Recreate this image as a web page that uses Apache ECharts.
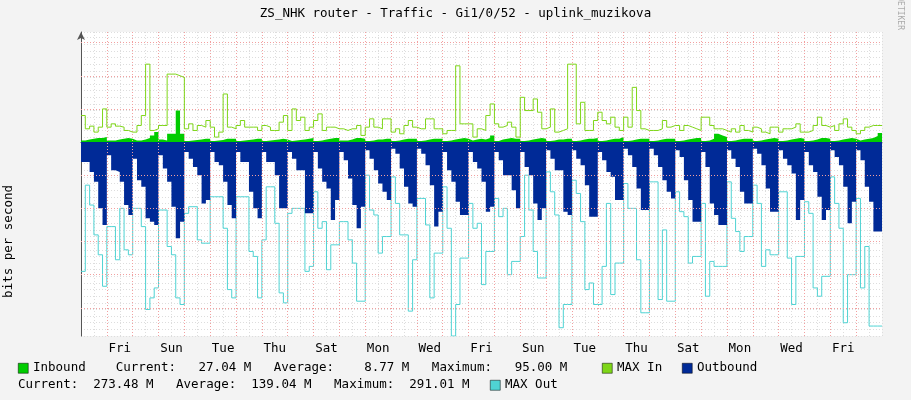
<!DOCTYPE html>
<html><head><meta charset="utf-8">
<script src="https://cdn.jsdelivr.net/npm/echarts@6/dist/echarts.min.js"></script>
<style>html,body{margin:0;padding:0;background:#f3f3f3}#c{width:911px;height:400px}</style>
</head><body><div id="c"></div>
<script>
// 31 days starting Thursday, 6 bins (4h) per day, values in Mbit/s
const dayNames = ['Thu','Fri','Sat','Sun','Mon','Tue','Wed'];
const inbound = [
5,8,10,12,12,15, 5,5,8,10,12,10, 5,5,8,12,20,30, 8,5,25,25,95,25, 3,5,6,8,10,10,
3,5,6,10,10,10, 3,5,6,8,10,10, 3,5,6,8,10,8, 3,5,6,8,10,12, 3,5,8,10,12,12,
5,5,8,12,12,10, 3,5,8,8,10,10, 3,5,8,10,10,10, 3,5,8,10,10,10, 3,5,8,10,12,10,
5,8,10,8,12,20, 3,8,10,12,10,10, 3,5,8,10,12,10, 3,5,8,8,10,10, 3,5,8,10,10,12,
3,5,8,10,10,15, 3,5,8,10,10,10, 3,5,8,10,10,10, 3,5,8,10,12,12, 3,5,10,25,20,15,
3,5,8,10,10,10, 3,5,8,10,12,10, 3,5,8,10,12,10, 3,5,8,12,12,10, 3,5,8,10,12,10,
5,8,10,12,18,27];
const maxIn = [
80,40,48,30,45,100, 45,55,48,45,35,30, 30,50,80,235,35,40, 50,50,205,205,200,195, 40,55,35,50,45,65,
45,15,30,145,45,40, 50,65,45,45,45,35, 50,45,35,35,60,80, 35,100,65,75,35,45, 65,85,35,45,45,40,
40,35,40,40,50,20, 45,70,45,40,70,70, 30,40,25,50,65,45, 40,40,70,70,40,40, 25,35,35,230,55,55,
55,15,40,35,80,115, 55,45,50,60,45,15, 135,95,95,130,90,40, 45,100,30,35,40,235, 235,55,120,35,35,65,
90,65,55,75,45,35, 75,45,165,95,40,35, 35,35,40,65,45,50, 50,35,50,45,40,35, 75,75,50,40,40,35,
30,40,30,50,35,30, 45,40,30,25,45,45, 30,40,40,45,55,30, 30,35,50,75,50,45, 50,35,55,70,45,35,
25,35,45,50,50,50];
const outbound = [
60,60,90,120,200,250, 40,85,90,120,190,220, 50,115,135,230,240,250, 40,80,120,195,290,240, 30,50,75,100,185,175,
30,60,70,120,190,230, 30,60,60,150,200,230, 30,60,60,100,200,200, 30,50,85,85,215,215, 30,80,120,140,235,175,
30,55,110,190,260,195, 25,50,85,125,150,175, 20,35,80,135,185,195, 20,35,70,130,255,210, 30,85,120,180,220,220,
30,60,80,120,210,195, 30,55,100,100,145,200, 30,75,100,185,235,200, 25,50,85,85,210,220, 25,50,70,130,225,225,
30,55,90,105,175,175, 20,40,75,140,205,205, 20,40,75,115,150,170, 25,45,115,175,240,240, 30,75,185,220,250,250,
25,50,75,150,185,185, 20,35,70,140,210,210, 25,50,70,95,235,175, 30,70,90,165,235,205, 25,45,70,135,245,180,
25,55,135,180,270,270];
const maxOut = [
390,130,190,280,340,435, 255,255,355,200,325,340, 200,200,255,505,470,440, 205,205,315,340,470,490, 215,195,195,295,305,305,
165,165,165,260,445,470, 165,165,165,330,345,470, 295,135,135,245,455,485, 215,200,200,200,390,375, 150,260,240,385,310,310,
240,240,295,365,480,480, 100,205,220,335,285,285, 105,185,280,280,510,355, 170,170,250,470,335,335, 135,260,585,490,350,350,
185,260,245,430,330,330, 170,225,200,400,360,360, 285,100,205,330,410,410, 90,150,220,560,490,490, 115,155,240,445,425,490,
490,375,185,460,365,365, 125,200,200,355,515,515, 120,120,475,265,480,480, 150,210,225,365,345,345, 185,465,360,375,375,375,
120,230,270,330,285,285, 130,185,375,325,340,340, 150,150,350,490,345,345, 180,215,440,465,405,405, 105,185,260,545,400,400,
170,440,315,555,555,555];
const yTicks = [-500,-400,-300,-200,-100,0,100,200,300];

const BIN = 4;
function pts(arr, sign){ const d = arr.map((v,i)=>[i*BIN, sign*v]); d.push([arr.length*BIN, sign*arr[arr.length-1]]); return d; }
const mono = 'DejaVu Sans Mono';
const dayLines = []; for (let h=24; h<744; h+=24) dayLines.push({xAxis:h});
const hLines = yTicks.filter(v=>v!==0).map(v=>({yAxis:v}));

const chart = echarts.init(document.getElementById('c'));
const sq = (x,y,c)=>({type:'rect',left:x,top:y,shape:{width:10,height:10},style:{fill:c,stroke:'#000',lineWidth:0.5}});
const tx = (x,y,t,extra)=>Object.assign({type:'text',left:x,top:y,style:{text:t,font:'12.5px '+mono,fill:'#000'}},extra||{});
chart.setOption({
  animation:false,
  backgroundColor:'#f3f3f3',
  grid:{left:81,right:29,top:32,bottom:64,show:true,backgroundColor:'#fff',borderWidth:0},
  xAxis:{type:'value',min:0,max:744,interval:12,
    axisLine:{lineStyle:{color:'#555'},symbol:['none','arrow'],symbolSize:[6,8]},
    axisTick:{show:true,length:3,lineStyle:{color:'#999'}},
    splitLine:{show:true,lineStyle:{color:'#ddd',type:[1,2]}},
    axisLabel:{fontFamily:mono,fontSize:12.5,color:'#000',margin:6,showMinLabel:false,showMaxLabel:false,
      formatter:v=>((v-36)%48===0? dayNames[((v-12)/24)%7] : '')}},
  yAxis:{type:'value',min:-585,max:332,interval:20,
    axisLine:{show:true,lineStyle:{color:'#555'},symbol:['none','arrow'],symbolSize:[6,8]},
    axisTick:{show:false},
    splitLine:{show:true,lineStyle:{color:'#ddd',type:[1,2]}},
    axisLabel:{fontFamily:mono,fontSize:12.5,color:'#000',margin:8,
      formatter:v=>{const r=Math.round(v); if(!yTicks.includes(r)) return ''; if(r===0) return '0'; return (r<0?'- ':'')+Math.abs(r)+' M';}}},
  series:[
    {type:'line',name:'grid',data:[],markLine:{silent:true,symbol:'none',label:{show:false},lineStyle:{color:'#f2a0a0',type:[1,2],width:1},data:dayLines.concat(hLines)}},
    {type:'line',name:'MAX Out',data:pts(maxOut,-1),step:'end',showSymbol:false,lineStyle:{color:'#4fd3d3',width:1},z:3},
    {type:'line',name:'Outbound',data:pts(outbound,-1),step:'end',showSymbol:false,lineStyle:{width:0},areaStyle:{color:'#002a97',opacity:1},z:4},
    {type:'line',name:'Inbound',data:pts(inbound,1),step:'end',showSymbol:false,lineStyle:{width:0},areaStyle:{color:'#00cc00',opacity:1},z:4},
    {type:'line',name:'MAX In',data:pts(maxIn,1),step:'end',showSymbol:false,lineStyle:{color:'#7ed618',width:1},z:5}
  ],
  graphic:[
    {type:'text',left:'center',top:7,style:{text:'ZS_NHK router - Traffic - Gi1/0/52 - uplink_muzikova',font:'12.5px '+mono,fill:'#000'}},
    {type:'text',left:2,top:185,rotation:Math.PI/2,originX:0,originY:0,style:{text:'bits per second',font:'12.5px '+mono,fill:'#000',x:0,y:0,align:'center',verticalAlign:'middle'},position:[10,185]},
    {type:'text',rotation:-Math.PI/2,position:[900,30],style:{text:'RRDTOOL / TOBI OETIKER',font:'8px '+mono,fill:'#aaa',align:'right',verticalAlign:'middle'}},
    sq(18,363,'#00cc00'), tx(33,361,'Inbound    Current:   27.04 M   Average:    8.77 M   Maximum:   95.00 M'),
    sq(602,363,'#7ed618'), tx(617,361,'MAX In'),
    sq(682,363,'#002a97'), tx(697,361,'Outbound'),
    tx(18,378,'Current:  273.48 M   Average:  139.04 M   Maximum:  291.01 M'),
    sq(490,380,'#4fd3d3'), tx(505,378,'MAX Out')
  ]
});
</script></body></html>
